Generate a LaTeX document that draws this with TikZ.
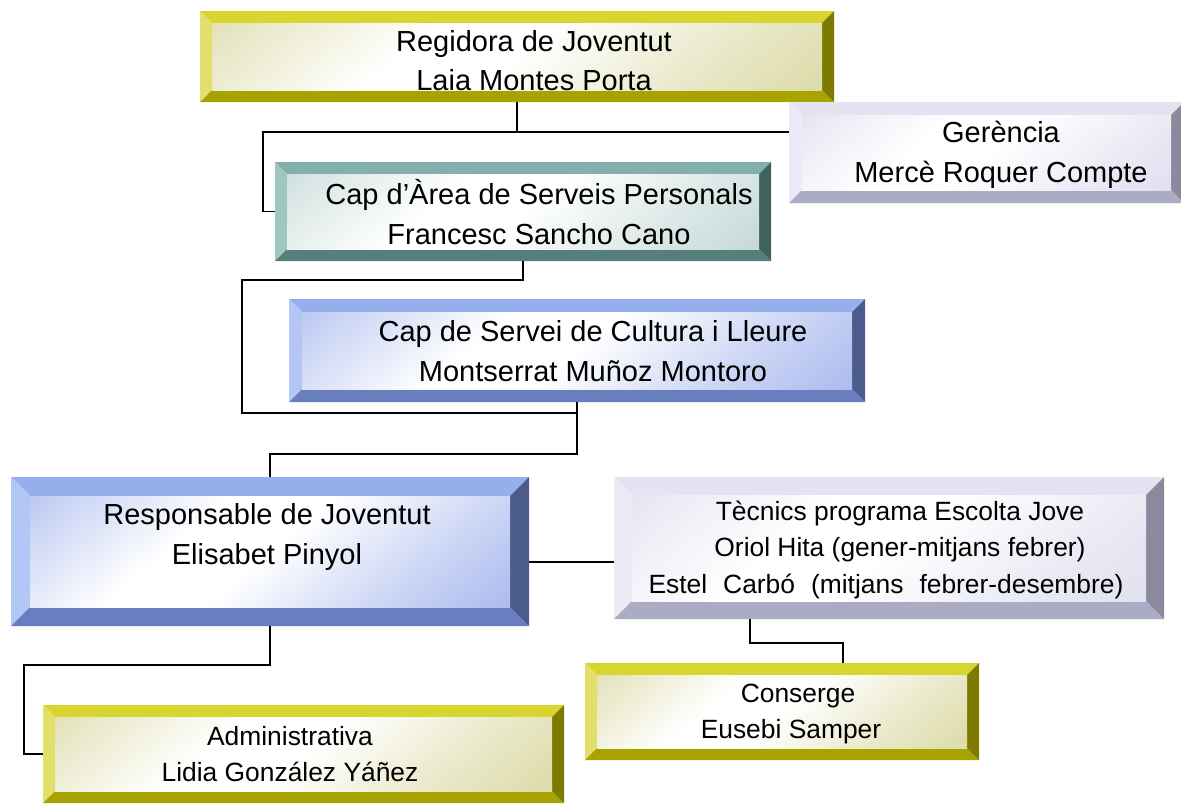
\documentclass[tikz,border=0pt]{standalone}
\usepackage{fontspec}
\setmainfont{Liberation Sans}
\usetikzlibrary{backgrounds,calc}

\definecolor{yTop}{HTML}{D8D52F}
\definecolor{yLeft}{HTML}{E2E06A}
\definecolor{yBot}{HTML}{A9A300}
\definecolor{yRight}{HTML}{7E7A00}
\definecolor{yTint}{HTML}{CFCD88}

\definecolor{lTop}{HTML}{E3E3F1}
\definecolor{lLeft}{HTML}{EBEBF7}
\definecolor{lBot}{HTML}{ABABC3}
\definecolor{lRight}{HTML}{8A8A9C}
\definecolor{lTint}{HTML}{D4D4EA}

\definecolor{tTop}{HTML}{83B0AC}
\definecolor{tLeft}{HTML}{A0C6C2}
\definecolor{tBot}{HTML}{567F7B}
\definecolor{tRight}{HTML}{3F625F}
\definecolor{tTint}{HTML}{B0CCC9}

\definecolor{bTop}{HTML}{95AFEC}
\definecolor{bLeft}{HTML}{B3C6F5}
\definecolor{bBot}{HTML}{687EBF}
\definecolor{bRight}{HTML}{4B5B8B}
\definecolor{bTint}{HTML}{8CA2E8}

\pgfdeclareverticalshading{yShade}{100bp}{color(0bp)=(yTint); color(30bp)=(yTint!45!white); color(50bp)=(white); color(62bp)=(white); color(80bp)=(yTint!45!white); color(100bp)=(yTint)}
\pgfdeclareverticalshading{lShade}{100bp}{color(0bp)=(lTint); color(30bp)=(lTint!45!white); color(50bp)=(white); color(62bp)=(white); color(80bp)=(lTint!45!white); color(100bp)=(lTint)}
\pgfdeclareverticalshading{tShade}{100bp}{color(0bp)=(tTint); color(30bp)=(tTint!45!white); color(50bp)=(white); color(62bp)=(white); color(80bp)=(tTint!45!white); color(100bp)=(tTint)}
\pgfdeclareverticalshading{bShade}{100bp}{color(0bp)=(bTint); color(30bp)=(bTint!45!white); color(50bp)=(white); color(62bp)=(white); color(80bp)=(bTint!45!white); color(100bp)=(bTint)}

% #1 node, #2 bevel, #3 palette prefix (y,l,t,b)
\newcommand\bevelbox[3]{%
\begin{pgfonlayer}{background}
\coordinate (NW) at (#1.north west);
\coordinate (NE) at (#1.north east);
\coordinate (SW) at (#1.south west);
\coordinate (SE) at (#1.south east);
\coordinate (nw) at ($(NW)+(#2,#2)$);
\coordinate (ne) at ($(NE)+(-#2,#2)$);
\coordinate (sw) at ($(SW)+(#2,-#2)$);
\coordinate (se) at ($(SE)+(-#2,-#2)$);
\fill[#3Top] (NW) -- (NE) -- (ne) -- (nw) -- cycle;
\fill[#3Left] (NW) -- (nw) -- (sw) -- (SW) -- cycle;
\fill[#3Bot] (SW) -- (sw) -- (se) -- (SE) -- cycle;
\fill[#3Right] (NE) -- (SE) -- (se) -- (ne) -- cycle;
\shade[shading=#3Shade, shading angle=40] (nw) rectangle (se);
\end{pgfonlayer}}

\tikzset{
  box/.style={rectangle, inner sep=0pt, outer sep=0pt},
  big/.style={align=center, inner sep=0pt, font=\fontsize{29}{40.5}\selectfont},
  small/.style={align=center, inner sep=0pt, font=\fontsize{26.4}{36.5}\selectfont},
  conn/.style={draw=black, line width=1.9pt}
}

\begin{document}
\begin{tikzpicture}[x=1pt,y=-1pt]
\useasboundingbox (0,0) rectangle (1181,804);

% boxes
\node[box, minimum width=634pt, minimum height=91pt] (reg) at (517,56.5) {};
\node[box, minimum width=395pt, minimum height=101pt] (ger) at (986.5,152.5) {};
\node[box, minimum width=496pt, minimum height=99pt] (cap) at (523,211.5) {};
\node[box, minimum width=576pt, minimum height=103pt] (cul) at (577,350.5) {};
\node[box, minimum width=518pt, minimum height=149pt] (res) at (270,551.5) {};
\node[box, minimum width=550pt, minimum height=142pt] (tec) at (889,548) {};
\node[box, minimum width=394pt, minimum height=97pt] (con) at (782,711.5) {};
\node[box, minimum width=521pt, minimum height=98pt] (adm) at (303.5,754) {};

\bevelbox{reg}{12}{y}
\bevelbox{ger}{13}{l}
\bevelbox{cap}{12}{t}
\bevelbox{cul}{13}{b}
\bevelbox{res}{19}{b}
\bevelbox{tec}{18}{l}
\bevelbox{con}{12}{y}
\bevelbox{adm}{12}{y}

% texts
\node[big, font=\fontsize{29}{39}\selectfont] (regT) at (534,61) {Regidora de Joventut\\Laia Montes Porta};
\node[big] (gerT) at (1001,155) {Gerència\\Mercè Roquer Compte};
\node[big] (capT) at (539,212) {Cap d’Àrea de Serveis Personals\\Francesc Sancho Cano};
\node[big] (culT) at (593,351) {Cap de Servei de Cultura i Lleure\\Montserrat Muñoz Montoro};
\node[big] (resT) at (267,537) {Responsable de Joventut\\Elisabet Pinyol};
\node[small] (tecT) at (900,550) {Tècnics programa Escolta Jove\\Oriol Hita (gener-mitjans febrer)\\Estel\hspace{16pt}Carbó\hspace{16pt}(mitjans\hspace{16pt}febrer-desembre)\rule{28pt}{0pt}};
\node[small] (conT) at (798,714) {Conserge\\Eusebi Samper\rule{14pt}{0pt}};
\node[small] (admT) at (290,754) {Administrativa\\Lidia González Yáñez};

% connectors
\coordinate (j1) at (517,132);
\coordinate (j2) at (263,132);
\draw[conn] (reg.south) -- (j1) -- (j1 -| ger.west);
\draw[conn] (j1) -- (j2) |- (cap.west);

\coordinate (j3) at (242,280);
\coordinate (j4) at (242,413);
\draw[conn] (cap.south) |- (j3) -- (j4) -| (cul.south);

\coordinate (j5) at (577,454);
\draw[conn] (cul.south) -- (j5) -| (res.north);

\coordinate (j6) at (570,562);
\draw[conn] (j6 -| res.east) -- (j6 -| tec.west);

\coordinate (j7) at (24,665);
\draw[conn] (res.south) |- (j7) |- (adm.west);

\coordinate (j8) at (750,643);
\coordinate (j9) at (843,643);
\draw[conn] (j8 |- tec.south) -- (j8) -- (j9) -- (j9 |- con.north);
\end{tikzpicture}
\end{document}
